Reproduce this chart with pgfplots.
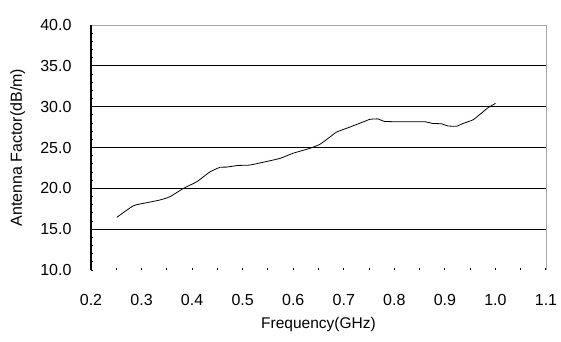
\documentclass[border=0pt]{standalone}
\usepackage{pgfplots}
\pgfplotsset{compat=1.18}
\usepackage{fontspec}
\setmainfont{Liberation Sans}
\begin{document}
\begin{tikzpicture}
\begin{axis}[
  at={(0pt,0pt)}, anchor=origin,
  scale only axis, width=455pt, height=245pt,
  xmin=0.2, xmax=1.1, ymin=10, ymax=40,
  xtick={0.2,0.3,...,1.1},
  minor xtick={0.25,0.35,...,1.05},
  ytick={10,15,...,40},
  minor ytick={11,12,13,14,16,17,18,19,21,22,23,24,26,27,28,29,31,32,33,34,36,37,38,39},
  extra y ticks={15,20,25,30,35},
  extra y tick labels={},
  extra tick style={grid=major, major tick length=0pt},
  axis line style={draw=none},
  major grid style={black, line width=1.2pt},
  tick align=inside,
  xtick pos=bottom, ytick pos=left,
  x tick style={black, line width=1.1pt},
  major x tick style={black, line width=1.1pt},
  y tick style={black, line width=0.8pt},
  major tick length=2pt,
  minor tick length=2pt,
  /pgf/number format/assume math mode=true,
  /pgf/number format/fixed, /pgf/number format/fixed zerofill, /pgf/number format/precision=1,
  tick label style={font=\fontsize{16}{18}\selectfont},
  yticklabel style={xshift=-16pt},
  xticklabel style={yshift=-21pt},
  xlabel={Frequency(GHz)}, ylabel={Antenna Factor(dB/m)},
  xlabel style={font=\fontsize{15.5}{17}\selectfont, at={(axis description cs:0.5,0)}, anchor=north, yshift=-47pt, inner sep=0pt},
  ylabel style={font=\fontsize{16}{18}\selectfont, at={(axis description cs:0,0.5)}, anchor=north, yshift=81pt, inner sep=0pt},
  clip=false,
]
\draw[gray!70, line width=0.8pt] (axis cs:0.2,40) -- (axis cs:1.1,40) -- (axis cs:1.1,10);
\draw[black, line width=1.4pt] (axis cs:0.2,10) -- (axis cs:0.2,40);
\addplot[black, line width=0.8pt, smooth, tension=0.3] coordinates {
(0.251,16.45) (0.284,17.87) (0.310,18.24) (0.336,18.57) (0.356,18.97)
(0.383,20.0) (0.409,20.8) (0.435,22.0) (0.455,22.57) (0.468,22.6)
(0.491,22.8) (0.514,22.85) (0.541,23.2) (0.574,23.67) (0.600,24.3)
(0.633,24.9) (0.653,25.4) (0.673,26.3) (0.686,26.9) (0.712,27.5)
(0.739,28.15) (0.752,28.45) (0.768,28.5) (0.78,28.2) (0.811,28.15)
(0.861,28.15) (0.875,27.95) (0.894,27.9) (0.905,27.65) (0.923,27.6)
(0.936,27.95) (0.956,28.4) (0.976,29.4) (0.986,29.9) (1.0,30.4)
};
\end{axis}
\path (-91pt,-71pt) rectangle (470pt,270pt);
\end{tikzpicture}
\end{document}
